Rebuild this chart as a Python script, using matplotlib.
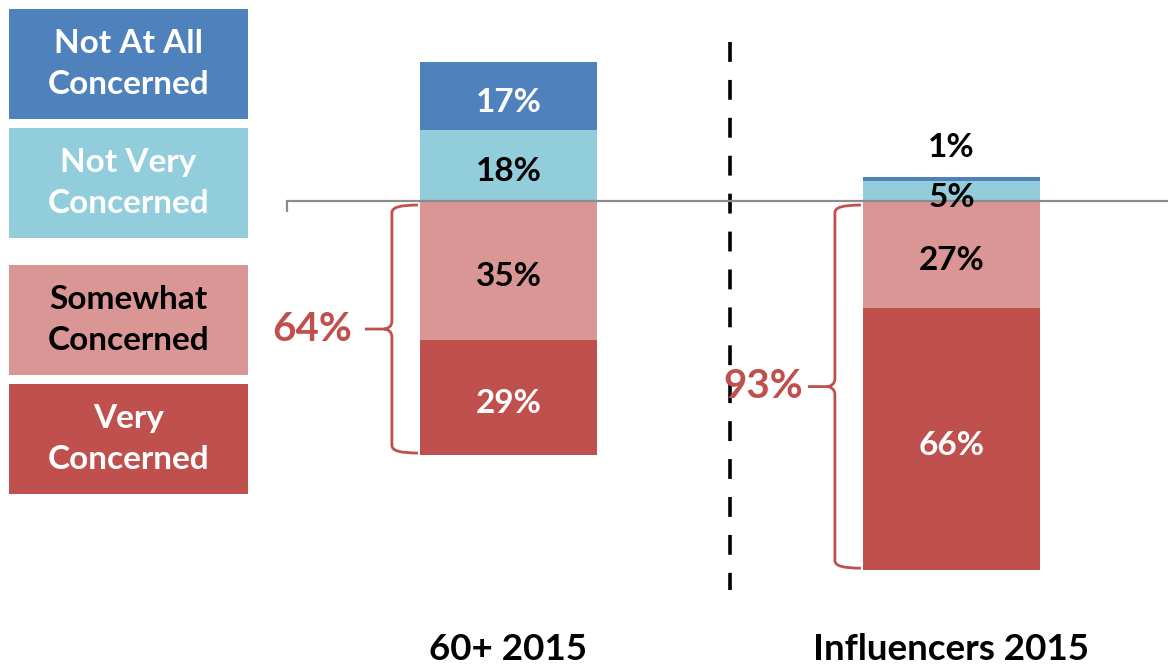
import matplotlib
matplotlib.use("Agg")
import matplotlib.pyplot as plt
from matplotlib.path import Path
from matplotlib.patches import PathPatch, Rectangle

# ---- data ----
groups = ["60+ 2015", "Influencers 2015"]
not_at_all = [17, 1]
not_very = [18, 5]
somewhat = [35, 27]
very = [29, 66]
totals = [64, 93]
legend_labels = ["Not At All\nConcerned", "Not Very\nConcerned", "Somewhat\nConcerned", "Very\nConcerned"]

# ---- style ----
C_NAA = "#4F81BD"
C_NV = "#92CDDC"
C_SW = "#D99694"
C_VC = "#C0504D"
FONT = "Lato"
plt.rcParams["font.family"] = [FONT, "DejaVu Sans"]

W, H = 1168, 669
fig = plt.figure(figsize=(W / 100, H / 100), dpi=100)

PX_PER_UNIT_X = 443.0
PX_PER_PCT = 3.97
ZERO_Y = 201
AX_LEFT = 287
ax = fig.add_axes([AX_LEFT / W, 0, 2 * PX_PER_UNIT_X / W, 1])
ax.set_xlim(-0.5, 1.5)
ax.set_ylim(-(H - ZERO_Y) / PX_PER_PCT, ZERO_Y / PX_PER_PCT)
kx = 1 / PX_PER_UNIT_X
ky = 1 / PX_PER_PCT

x = list(range(len(groups)))
bw = 0.4
ax.bar(x, not_very, bw, bottom=0, color=C_NV, zorder=2)
ax.bar(x, not_at_all, bw, bottom=not_very, color=C_NAA, zorder=2)
ax.bar(x, [-v for v in somewhat], bw, bottom=0, color=C_SW, zorder=2)
ax.bar(x, [-v for v in very], bw, bottom=[-v for v in somewhat], color=C_VC, zorder=2)

# axis styling
for s in ["top", "right", "left"]:
    ax.spines[s].set_visible(False)
ax.spines["bottom"].set_position(("data", 0))
ax.spines["bottom"].set_color("#8C8C8C")
ax.spines["bottom"].set_linewidth(1.6)
ax.spines["bottom"].set_zorder(5)
ax.set_yticks([])
ax.set_xticks([-0.5, 0.5, 1.5])
ax.set_xticklabels([])
ax.tick_params(axis="x", direction="out", length=8, width=1.6, color="#8C8C8C")
ax.set_facecolor("none")

lab_fs = 24
off = 1.6
for i in x:
    nv, na, sw, vc = not_very[i], not_at_all[i], somewhat[i], very[i]
    if na >= 5:
        ax.text(i, nv + na / 2 - off, f"{na}%", ha="center", va="center", fontsize=lab_fs,
                fontweight="bold", color="white", zorder=6)
    else:
        ax.text(i, nv + na + 7.5, f"{na}%", ha="center", va="center", fontsize=lab_fs,
                fontweight="bold", color="black", zorder=6)
    ax.text(i, nv / 2 - off, f"{nv}%", ha="center", va="center", fontsize=lab_fs,
            fontweight="bold", color="black", zorder=6)
    ax.text(i, -sw / 2 - off, f"{sw}%", ha="center", va="center", fontsize=lab_fs,
            fontweight="bold", color="black", zorder=6)
    ax.text(i, -sw - vc / 2 - off, f"{vc}%", ha="center", va="center", fontsize=lab_fs,
            fontweight="bold", color="white", zorder=6)
    ax.text(i, -(650 - ZERO_Y) / PX_PER_PCT, groups[i], ha="center", va="center",
            fontsize=26.5, fontweight="bold", color="black")


def brace(ax, xr, ytop, ybot, color):
    xv = xr - 26 * kx
    xc = xr - 34 * kx
    xt = xr - 53 * kx
    ym = (ytop + ybot) / 2
    c = 8 * ky
    verts = [
        (xr, ytop), (xv + 8 * kx, ytop - 0.3 * ky), (xv, ytop - 2 * ky), (xv, ytop - c),
        (xv, ym + c),
        (xv, ym + 2 * ky), (xc + 3 * kx, ym), (xc, ym),
        (xt, ym),
        (xc, ym),
        (xc + 3 * kx, ym), (xv, ym - 2 * ky), (xv, ym - c),
        (xv, ybot + c),
        (xv, ybot + 2 * ky), (xv + 8 * kx, ybot + 0.3 * ky), (xr, ybot),
    ]
    codes = [Path.MOVETO, Path.CURVE4, Path.CURVE4, Path.CURVE4,
             Path.LINETO,
             Path.CURVE4, Path.CURVE4, Path.CURVE4,
             Path.LINETO,
             Path.MOVETO,
             Path.CURVE4, Path.CURVE4, Path.CURVE4,
             Path.LINETO,
             Path.CURVE4, Path.CURVE4, Path.CURVE4]
    ax.add_patch(PathPatch(Path(verts, codes), fill=False, edgecolor=color, lw=2.0,
                           capstyle="butt", zorder=4))
    return xt, ym


gaps = [13, 5]
for i in x:
    xr = i - bw / 2 - 2 * kx
    xt, ym = brace(ax, xr, -4 * ky, -totals[i] + 2 * ky, C_VC)
    ax.text(xt - gaps[i] * kx, ym, f"{totals[i]}%", ha="right", va="center",
            fontsize=29, fontweight="bold", color=C_VC, zorder=6)

# dashed separator
ax.plot([0.5, 0.5], [(ZERO_Y - 42) * ky, -(590 - ZERO_Y) * ky], color="black",
        lw=2.6, dashes=(5.5, 5), zorder=3)

# legend boxes (figure pixel coords)
box_tops = [9, 128, 265, 384]
box_h = 110
box_cols = [C_NAA, C_NV, C_SW, C_VC]
txt_cols = ["white", "white", "black", "white"]
for lbl, top, bc, tc in zip(legend_labels, box_tops, box_cols, txt_cols):
    fig.add_artist(Rectangle((9 / W, 1 - (top + box_h) / H), 239 / W, box_h / H,
                             transform=fig.transFigure, color=bc, lw=0))
    fig.text(128.5 / W, 1 - (top + box_h / 2) / H, lbl, ha="center", va="center",
             fontsize=24, fontweight="bold", color=tc, linespacing=1.5)

fig.savefig("out.png", dpi=100)
